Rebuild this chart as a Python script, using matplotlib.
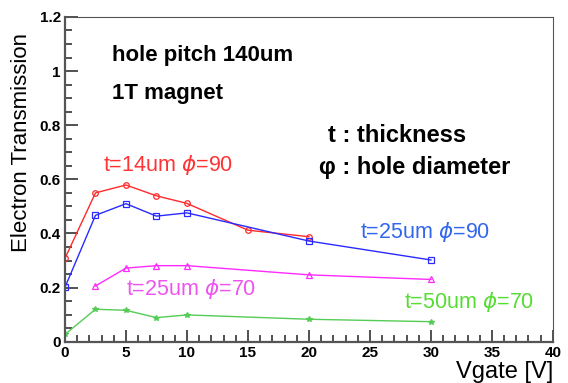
import matplotlib
matplotlib.use("Agg")
import matplotlib.pyplot as plt
from matplotlib.ticker import MultipleLocator

# data
v_red = [0, 2.5, 5, 7.5, 10, 15, 20]
t_red = [0.308, 0.55, 0.579, 0.539, 0.511, 0.412, 0.388]

v_blue = [0, 2.5, 5, 7.5, 10, 20, 30]
t_blue = [0.201, 0.467, 0.51, 0.464, 0.476, 0.372, 0.302]

v_mag = [2.5, 5, 7.5, 10, 20, 30]
t_mag = [0.206, 0.272, 0.281, 0.281, 0.247, 0.230]

v_green = [0, 2.5, 5, 7.5, 10, 20, 30]
t_green = [0.027, 0.12, 0.116, 0.089, 0.099, 0.083, 0.074]

plt.rcParams['font.family'] = ['Liberation Sans', 'DejaVu Sans']

fig = plt.figure(figsize=(5.68, 3.83), dpi=100)
ax = fig.add_axes([0.1144, 0.1078, 0.859, 0.848])

ax.plot(v_red, t_red, color='#ff2a2a', lw=1, marker='o', ms=4, mfc='none', mew=0.9)
ax.plot(v_blue, t_blue, color='#2a2aff', lw=1, marker='s', ms=4, mfc='none', mew=0.9)
ax.plot(v_mag, t_mag, color='#ff2aff', lw=1, marker='^', ms=4, mfc='none', mew=0.9)
ax.plot(v_green, t_green, color='#55cc55', lw=1, marker='*', ms=4, mew=0.9)

ax.set_xlim(0, 40)
ax.set_ylim(0, 1.2)
ax.xaxis.set_major_locator(MultipleLocator(5))
ax.xaxis.set_minor_locator(MultipleLocator(1))
ax.yaxis.set_minor_locator(MultipleLocator(0.05))
ax.set_yticks([0, 0.2, 0.4, 0.6, 0.8, 1.0, 1.2])
ax.set_yticklabels(['0', '0.2', '0.4', '0.6', '0.8', '1', '1.2'])
ax.tick_params(which='both', direction='in', top=False, right=False,
               labelsize=11, width=1.2, color='#333333')
ax.tick_params(which='major', length=9, pad=3)
ax.tick_params(which='minor', length=5)
for lab in ax.get_xticklabels() + ax.get_yticklabels():
    lab.set_fontweight('bold')
for s in ax.spines.values():
    s.set_color('#555555')
ax.spines['left'].set_linewidth(1.6)
ax.spines['bottom'].set_linewidth(1.6)

fig.text(22 / 568, 1 - 142 / 383, 'Electron Transmission', fontsize=16,
         rotation=90, ha='center', va='center')
fig.text(553 / 568, 1 - 372 / 383, 'Vgate [V]', fontsize=17, ha='right', va='center')

fig.text(112 / 568, 1 - 55 / 383, 'hole pitch 140um', fontsize=16, fontweight='bold', va='center')
fig.text(112 / 568, 1 - 93 / 383, '1T magnet', fontsize=16, fontweight='bold', va='center')
fig.text(328 / 568, 1 - 135 / 383, 't : thickness', fontsize=17, fontweight='bold', va='center')
fig.text(319 / 568, 1 - 167 / 383, 'φ : hole diameter', fontsize=17, fontweight='bold', va='center')

fig.text(103 / 568, 1 - 165 / 383, 't=14um $\\phi$=90', fontsize=15.5, color='#ff3333', va='center')
fig.text(360 / 568, 1 - 232 / 383, 't=25um $\\phi$=90', fontsize=15.5, color='#3366ee', va='center')
fig.text(126 / 568, 1 - 289 / 383, 't=25um $\\phi$=70', fontsize=15.5, color='#ee55ee', va='center')
fig.text(404 / 568, 1 - 302 / 383, 't=50um $\\phi$=70', fontsize=15.5, color='#55dd33', va='center')

fig.savefig('out.png', dpi=100)
